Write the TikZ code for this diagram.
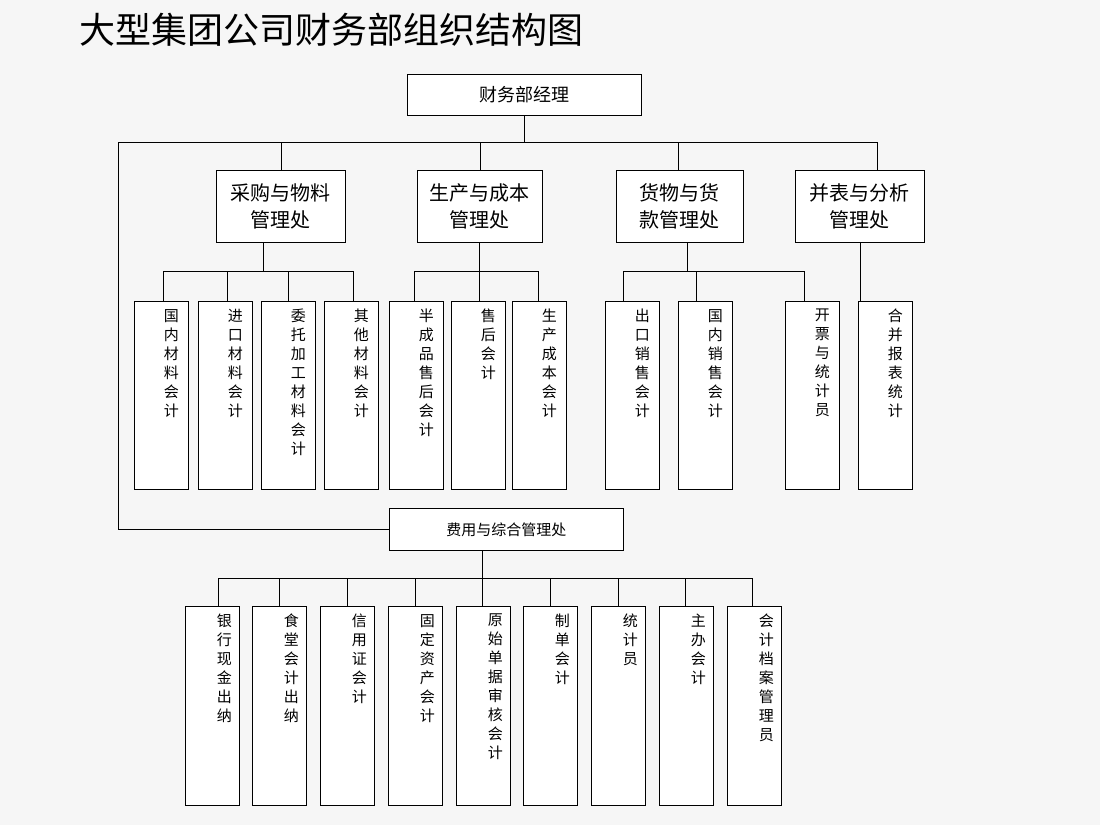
\documentclass[tikz,border=0pt]{standalone}
\usepackage{fontspec}
\setmainfont{Noto Sans CJK SC}
\begin{document}
\begin{tikzpicture}[x=1pt,y=-1pt,
    box/.style={draw,thick,fill=white,anchor=north west,inner sep=0pt},
    tall/.style={box,minimum width=54pt,minimum height=188pt},
    vt/.style={anchor=north,align=center,font=\fontsize{15}{19}\selectfont,inner sep=0pt},
    ln/.style={thick}]
    \fill[gray!7] (0,0) rectangle (1100,825);
    \useasboundingbox (0,0) rectangle (1100,825);

    % title
    \node[anchor=west,font=\fontsize{36}{40}\selectfont] (title) at (76,30) {大型集团公司财务部组织结构图};

    % top
    \node[box,minimum width=234pt,minimum height=41pt,font=\fontsize{18}{20}\selectfont] (mgr) at (407,74) {财务部经理};
    \coordinate (busL) at (118,142);
    \coordinate (busR) at (877,142);
    \draw[ln] (mgr.south) -- (mgr.south |- busL);
    \draw[ln] (busL) -- (busR);

    % level two
    \foreach \nm/\x/\w/\t in {cg/216/129/{采购与物料\\管理处}, sc/417/125/{生产与成本\\管理处},
        hw/616/127/{货物与货\\款管理处}, bb/795/129/{并表与分析\\管理处}}
        \node[box,minimum width=\w pt,minimum height=72pt,align=center,
              font=\fontsize{20}{27}\selectfont] (\nm) at (\x,170) {\t};
    \foreach \nm/\x in {cg/281, sc/480, hw/678, bb/877}
        \draw[ln] (\x,142) -- (\nm.north -| \x,0);

    % level three
    \foreach \nm/\x/\t in {
        a1/134/{国\\内\\材\\料\\会\\计}, a2/198/{进\\口\\材\\料\\会\\计},
        a3/261/{委\\托\\加\\工\\材\\料\\会\\计}, a4/324/{其\\他\\材\\料\\会\\计},
        b1/389/{半\\成\\品\\售\\后\\会\\计}, b2/451/{售\\后\\会\\计}, b3/512/{生\\产\\成\\本\\会\\计},
        c1/605/{出\\口\\销\\售\\会\\计}, c2/678/{国\\内\\销\\售\\会\\计}, c3/785/{开\\票\\与\\统\\计\\员},
        d1/858/{合\\并\\报\\表\\统\\计}}
    {
        \node[tall] (\nm) at (\x,301) {};
        \node[vt] (\nm t) at ([xshift=10pt,yshift=-8pt]\nm.north) {\t};
    }
    \draw[ln] (cg.south -| 263,0) |- (163,271) -- (a1.north -| 163,0);
    \draw[ln] (163,271) -- (353,271);
    \foreach \nm/\x in {a2/227, a3/288, a4/353}
        \draw[ln] (\x,271) -- (\nm.north -| \x,0);
    \draw[ln] (sc.south -| 479,0) -- (b2.north -| 479,0);
    \draw[ln] (414,271) -- (538,271);
    \foreach \nm/\x in {b1/414, b3/538}
        \draw[ln] (\x,271) -- (\nm.north -| \x,0);
    \draw[ln] (hw.south -| 687,0) -- (687,271);
    \draw[ln] (623,271) -- (804,271);
    \foreach \nm/\x in {c1/623, c2/696, c3/804}
        \draw[ln] (\x,271) -- (\nm.north -| \x,0);
    \draw[ln] (bb.south) -- (d1.north -| bb.south);

    % fee department
    \node[box,minimum width=234pt,minimum height=42pt,font=\fontsize{15}{18}\selectfont] (fy) at (389,508) {费用与综合管理处};
    \draw[ln] (busL) |- (fy.west);
    \draw[ln] (fy.south -| 482,0) -- (482,578);
    \draw[ln] (218,578) -- (752,578);
    \foreach \nm/\x/\dx/\t in {
        e1/185/218/{银\\行\\现\\金\\出\\纳}, e2/252/279/{食\\堂\\会\\计\\出\\纳},
        e3/320/347/{信\\用\\证\\会\\计}, e4/388/415/{固\\定\\资\\产\\会\\计},
        e5/456/482/{原\\始\\单\\据\\审\\核\\会\\计}, e6/523/550/{制\\单\\会\\计},
        e7/591/618/{统\\计\\员}, e8/659/685/{主\\办\\会\\计},
        e9/727/752/{会\\计\\档\\案\\管\\理\\员}}
    {
        \node[tall,minimum height=199pt] (\nm) at (\x,606) {};
        \node[vt] (\nm t) at ([xshift=12pt,yshift=-8pt]\nm.north) {\t};
        \draw[ln] (\dx,578) -- (\nm.north -| \dx,0);
    }
\end{tikzpicture}
\end{document}
